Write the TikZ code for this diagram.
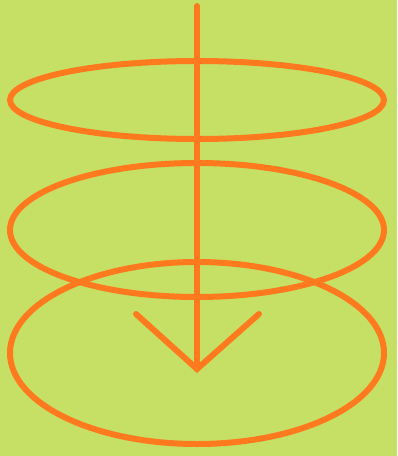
\documentclass[tikz,border=0pt]{standalone}
\definecolor{bg}{HTML}{C5E065}
\definecolor{orng}{HTML}{FF7A1F}
\begin{document}
\begin{tikzpicture}[x=1pt,y=-1pt,
  stroke/.style={draw=orng,line width=6pt,line cap=round,line join=miter}]
\fill[bg] (0,0) rectangle (397,456);
\useasboundingbox (0,0) rectangle (397,456);
\draw[stroke] (197,100) ellipse [x radius=187, y radius=39];
\draw[stroke] (197,230) ellipse [x radius=187, y radius=67];
\draw[stroke] (197,353) ellipse [x radius=187, y radius=91];
\coordinate (top) at (197,6);
\coordinate (tip) at (197,369);
\draw[stroke] (top) -- (tip);
\draw[stroke] (136,314) -- (tip) -- (259,314);
\end{tikzpicture}
\end{document}
